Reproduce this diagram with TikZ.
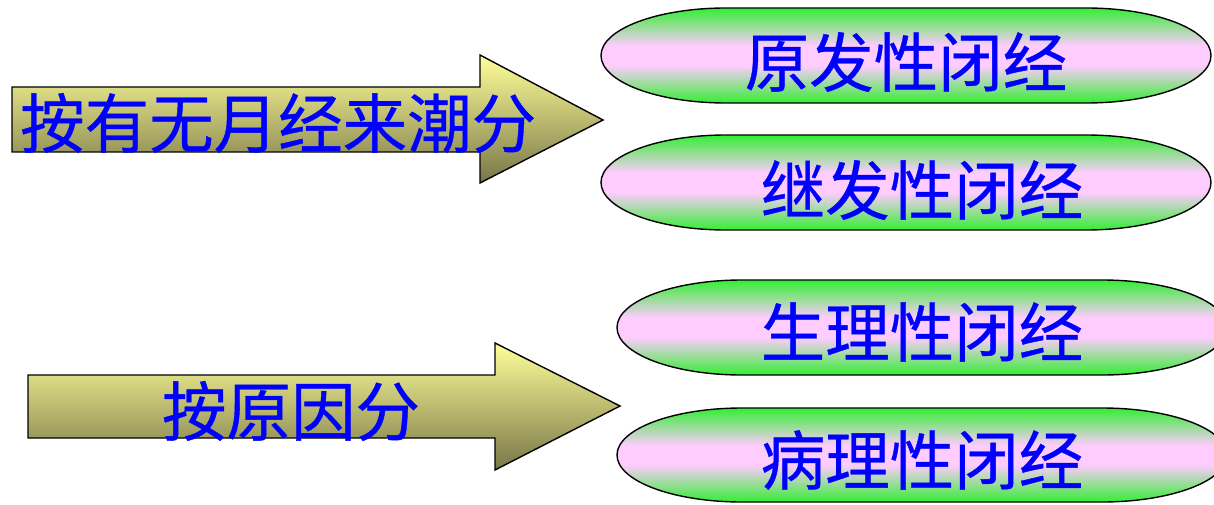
\documentclass[tikz,border=0pt]{standalone}
\usepackage{fontspec}
\newfontfamily\cjk[FakeBold=0.6]{Noto Sans CJK SC}
\definecolor{grn}{RGB}{51,238,51}
\definecolor{pnk}{RGB}{255,204,255}
\definecolor{ylw}{RGB}{255,255,153}
\definecolor{olv}{RGB}{120,118,72}
\definecolor{txtblue}{RGB}{0,0,255}
\pgfdeclareverticalshading{pillshade}{100bp}{color(0bp)=(grn); color(25bp)=(grn); color(45bp)=(pnk); color(55bp)=(pnk); color(75bp)=(grn); color(100bp)=(grn)}
\tikzset{
  pill/.style={draw=black, line width=1.4pt, shading=pillshade},
  blockarrow/.style={draw=black, line width=1.4pt, top color=ylw, bottom color=olv},
  label/.style={text=txtblue, font=\cjk\fontsize{64.5}{64.5}\selectfont, inner sep=0pt}
}
\newcommand{\pillpath}[6]{% x0,y0,x1,y1,rx,name
  \path[pill] (#1+#5,#2) -- (#3-#5,#2)
    arc[start angle=-90,end angle=90,x radius=#5,y radius=(#4-#2)/2]
    -- (#1+#5,#4)
    arc[start angle=90,end angle=270,x radius=#5,y radius=(#4-#2)/2] -- cycle;
  \coordinate (#6) at ({(#1+#3)/2},{(#2+#4)/2});
}
\begin{document}
\begin{tikzpicture}[x=1pt,y=-1pt]
\clip (0,0) rectangle (1214,505);
\useasboundingbox (0,0) rectangle (1214,505);
% arrows
\path[blockarrow] (12,87) -- (480,87) -- (480,55) -- (603,120) -- (480,183) -- (480,152) -- (12,152) -- cycle;
\path[blockarrow] (28,375) -- (495,375) -- (495,343) -- (620,406) -- (495,470) -- (495,438) -- (28,438) -- cycle;
\node[label, anchor=west] (a1) at (20,123) {按有无月经来潮分};
\node[label] (a2) at (291,411) {按原因分};
% pills
\pillpath{601}{8}{1211}{103}{125}{p1}
\pillpath{601}{135}{1211}{230}{125}{p2}
\pillpath{617}{280}{1227}{375}{125}{p3}
\pillpath{617}{408}{1227}{502}{125}{p4}
\node[label] (t1) at (906,62) {原发性闭经};
\node[label] (t2) at (922,190) {继发性闭经};
\node[label] (t3) at (922,332) {生理性闭经};
\node[label] (t4) at (922,460) {病理性闭经};
\end{tikzpicture}
\end{document}
